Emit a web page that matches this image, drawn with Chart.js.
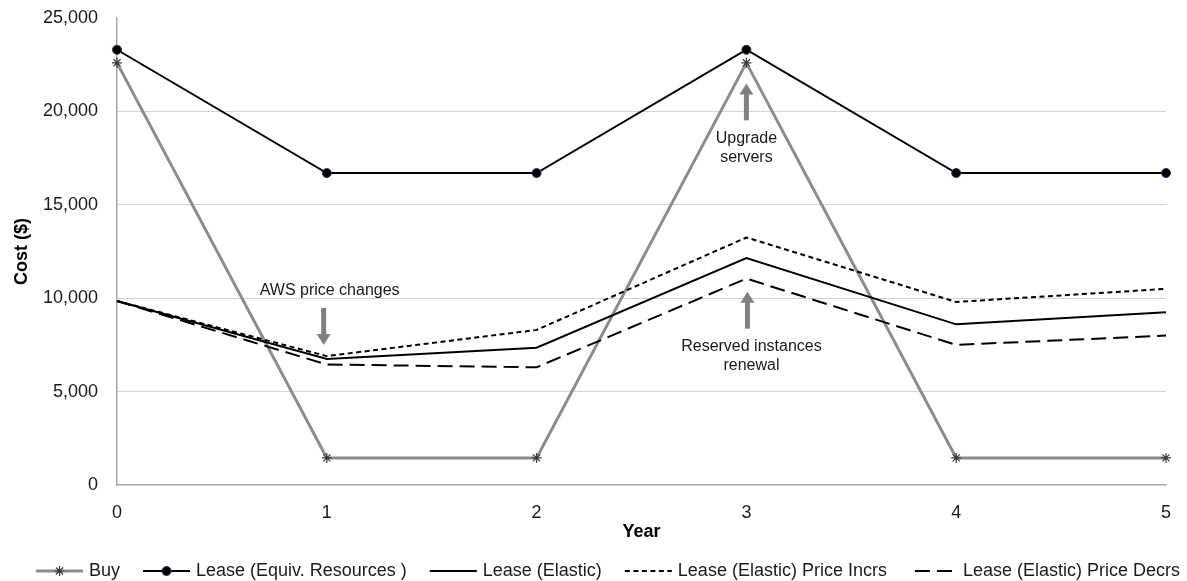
<!DOCTYPE html>
<html>
<head>
<meta charset="utf-8">
<title>Cost by Year: Buy vs Lease</title>
<script src="https://cdn.jsdelivr.net/npm/chart.js@4.4.1/dist/chart.umd.min.js"></script>
<style>
  html, body { margin: 0; padding: 0; background: #ffffff; }
  #wrap { width: 1187px; height: 581px; position: relative; }
</style>
</head>
<body>
<div id="wrap"><canvas id="chart"></canvas></div>
<script>
// Years on the x axis
const years = [0, 1, 2, 3, 4, 5];

// Yearly cost ($) for each option
const buyCost          = [22600, 1450, 1450, 22600, 1450, 1450];
const leaseEquivCost   = [23300, 16700, 16700, 23300, 16700, 16700];
const leaseElastic     = [9850, 6750, 7350, 12150, 8600, 9250];
const leaseElasticIncr = [9850, 6900, 8300, 13250, 9800, 10500];
const leaseElasticDecr = [9850, 6450, 6300, 11050, 7500, 8000];

// Y axis tick values
const costTicks = [0, 5000, 10000, 15000, 20000, 25000];

// Series names
const seriesNames = [
  'Buy',
  'Lease (Equiv. Resources )',
  'Lease (Elastic)',
  'Lease (Elastic) Price Incrs',
  'Lease (Elastic) Price Decrs'
];

// Callout notes: arrow tip (x in years, y in $), direction, text lines
const notes = [
  { x: 0.985, y: 7500,  dir: 'down', lines: ['AWS price changes'], textDx: 6 },
  { x: 3.0,   y: 21500, dir: 'up',   lines: ['Upgrade', 'servers'], textDx: 0 },
  { x: 3.005, y: 10350, dir: 'up',   lines: ['Reserved instances', 'renewal'], textDx: 4 }
];

const FONT = "'Liberation Sans', Arial, sans-serif";
const toXY = arr => arr.map((v, i) => ({ x: years[i], y: v }));

const datasets = [
  {
    label: seriesNames[0], data: toXY(buyCost),
    borderColor: '#8c8c8c', borderWidth: 3,
    pointStyle: 'star', pointRadius: 5, pointBorderColor: '#3a3a3a', pointBorderWidth: 1.2,
    pointBackgroundColor: '#3a3a3a', order: 5, clip: false
  },
  {
    label: seriesNames[1], data: toXY(leaseEquivCost),
    borderColor: '#000000', borderWidth: 2,
    pointStyle: 'circle', pointRadius: 4.5, pointBackgroundColor: '#000000',
    pointBorderColor: '#3b2a66', pointBorderWidth: 1, order: 4, clip: false
  },
  {
    label: seriesNames[2], data: toXY(leaseElastic),
    borderColor: '#000000', borderWidth: 2, pointRadius: 0, order: 3, clip: false
  },
  {
    label: seriesNames[3], data: toXY(leaseElasticIncr),
    borderColor: '#000000', borderWidth: 2, borderDash: [5, 3.5], pointRadius: 0, order: 2, clip: false
  },
  {
    label: seriesNames[4], data: toXY(leaseElasticDecr),
    borderColor: '#000000', borderWidth: 2, borderDash: [15, 7], pointRadius: 0, order: 1, clip: false
  }
];

// Draws the callout arrows and their captions
const notesPlugin = {
  id: 'notes',
  afterDatasetsDraw(chart) {
    const { ctx, scales: { x, y } } = chart;
    ctx.save();
    ctx.fillStyle = '#808080';
    ctx.strokeStyle = '#808080';
    notes.forEach(n => {
      const px = x.getPixelForValue(n.x);
      const tip = y.getPixelForValue(n.y);
      const len = 37, head = 11, halfHead = 7, shaft = 5;
      const s = n.dir === 'down' ? -1 : 1;   // direction from tip toward tail
      const tail = tip + s * len;
      // shaft
      ctx.lineWidth = shaft;
      ctx.beginPath();
      ctx.moveTo(px, tail);
      ctx.lineTo(px, tip + s * (head - 1));
      ctx.stroke();
      // head
      ctx.beginPath();
      ctx.moveTo(px, tip);
      ctx.lineTo(px - halfHead, tip + s * head);
      ctx.lineTo(px + halfHead, tip + s * head);
      ctx.closePath();
      ctx.fill();
      // caption
      ctx.fillStyle = '#1a1a1a';
      ctx.font = '16px ' + FONT;
      ctx.textAlign = 'center';
      ctx.textBaseline = 'middle';
      n.lines.forEach((t, i) => {
        let ty;
        if (n.dir === 'down') ty = tip - 54 - (n.lines.length - 1 - i) * 19;
        else ty = tail + 18 + i * 19;
        ctx.fillText(t, px + n.textDx, ty);
      });
      ctx.fillStyle = '#808080';
    });
    ctx.restore();
  }
};

// Bottom legend with line samples and markers
const legendPlugin = {
  id: 'lineLegend',
  afterDraw(chart) {
    const { ctx } = chart;
    const cy = 571, sample = 47, gapText = 6, spacing = 23;
    ctx.save();
    ctx.font = '18px ' + FONT;
    const widths = chart.data.datasets.map(d => ctx.measureText(d.label).width);
    const total = widths.reduce((a, w) => a + sample + gapText + w, 0) + spacing * (widths.length - 1);
    let cx = 608 - total / 2;
    chart.data.datasets.forEach((d, i) => {
      ctx.save();
      ctx.strokeStyle = d.borderColor;
      ctx.lineWidth = d.borderWidth;
      const dash = d.borderDash || [];
      ctx.setLineDash(dash);
      // long dashes start after a short gap so two whole dashes fit the sample
      ctx.lineDashOffset = dash.length && dash[0] > 10 ? -5 : 0;
      ctx.beginPath();
      ctx.moveTo(cx, cy);
      ctx.lineTo(cx + sample, cy);
      ctx.stroke();
      ctx.setLineDash([]);
      if (d.pointRadius > 0) {
        ctx.fillStyle = d.pointBackgroundColor;
        ctx.strokeStyle = d.pointBorderColor;
        ctx.lineWidth = d.pointBorderWidth;
        Chart.helpers.drawPoint(ctx, {
          pointStyle: d.pointStyle, radius: d.pointRadius, borderWidth: d.pointBorderWidth
        }, cx + sample / 2, cy);
      }
      ctx.restore();
      ctx.fillStyle = '#1a1a1a';
      ctx.textAlign = 'left';
      ctx.textBaseline = 'middle';
      ctx.fillText(d.label, cx + sample + gapText, cy);
      cx += sample + gapText + widths[i] + spacing;
    });
    ctx.restore();
  }
};

new Chart(document.getElementById('chart'), {
  type: 'line',
  data: { datasets },
  plugins: [notesPlugin, legendPlugin],
  options: {
    responsive: true,
    maintainAspectRatio: false,
    animation: false,
    layout: { padding: { left: 0, right: 21, top: 18, bottom: 38 } },
    elements: { line: { tension: 0, fill: false } },
    plugins: {
      legend: { display: false },
      tooltip: { enabled: false }
    },
    scales: {
      x: {
        type: 'linear',
        min: years[0],
        max: years[years.length - 1],
        afterFit(scale) {
          scale.height = 58;
          scale.paddingLeft = 0;
          scale.paddingRight = 0;
        },
        afterBuildTicks(scale) { scale.ticks = years.map(v => ({ value: v })); },
        ticks: {
          color: '#1a1a1a',
          font: { family: FONT, size: 18 },
          padding: 17,
          callback: v => String(v)
        },
        grid: { display: false, drawTicks: false },
        border: { display: true, color: '#a6a6a6', width: 1.5 },
        title: {
          display: true, text: 'Year', color: '#000000',
          font: { family: FONT, size: 18, weight: 'bold' },
          padding: { top: 0, bottom: 0 }
        }
      },
      y: {
        min: costTicks[0],
        max: costTicks[costTicks.length - 1],
        afterFit(scale) {
          scale.width = 117;
          scale.paddingTop = 0;
          scale.paddingBottom = 0;
        },
        afterBuildTicks(scale) { scale.ticks = costTicks.map(v => ({ value: v })); },
        ticks: {
          color: '#1a1a1a',
          font: { family: FONT, size: 18 },
          padding: 19,
          callback: v => v.toLocaleString('en-US')
        },
        grid: {
          drawTicks: false,
          lineWidth: 1,
          color: c => (c.tick && (c.tick.value === 0 || c.tick.value === 25000)) ? 'rgba(0,0,0,0)' : '#d4d4d4'
        },
        border: { display: true, color: '#a6a6a6', width: 1.5 },
        title: {
          display: true, text: 'Cost ($)', color: '#000000',
          font: { family: FONT, size: 18, weight: 'bold' },
          padding: { top: 11, bottom: 0 }
        }
      }
    }
  }
});
</script>
</body>
</html>
